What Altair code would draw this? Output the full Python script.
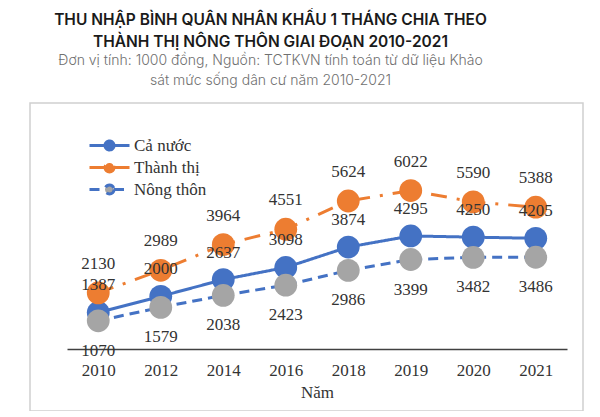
import altair as alt
import pandas as pd

years = ["2010", "2012", "2014", "2016", "2018", "2019", "2020", "2021"]
series_names = ["Cả nước", "Thành thị", "Nông thôn"]
ca_nuoc = [1387, 2000, 2637, 3098, 3874, 4295, 4250, 4205]
thanh_thi = [2130, 2989, 3964, 4551, 5624, 6022, 5590, 5388]
nong_thon = [1070, 1579, 2038, 2423, 2986, 3399, 3482, 3486]

title_lines = ["THU NHẬP BÌNH QUÂN NHÂN KHẨU 1 THÁNG CHIA THEO",
               "THÀNH THỊ NÔNG THÔN GIAI ĐOẠN 2010-2021"]
subtitle_lines = ["Đơn vị tính: 1000 đồng, Nguồn: TCTKVN tính toán từ dữ liệu Khảo",
                  "sát mức sống dân cư năm 2010-2021"]

line_colors = ["#4472C4", "#ED7D31", "#4472C4"]
marker_colors = ["#4472C4", "#ED7D31", "#A5A5A5"]
dash_styles = [[1, 0], [16, 10, 3, 10], [10, 6]]

rows = []
for name, vals in zip(series_names, [ca_nuoc, thanh_thi, nong_thon]):
    for yr, v in zip(years, vals):
        rows.append({"Năm": yr, "series": name, "value": v})
df = pd.DataFrame(rows)

SERIF = "Liberation Serif"
TXT = "#333333"

x_enc = alt.X(
    "Năm:N", sort=years,
    scale=alt.Scale(type="point", range=[37, 537], padding=0.5),
    axis=alt.Axis(orient="bottom", offset=-62, domainColor="#404040", domainWidth=1.5,
                  ticks=False, labelAngle=0, labelFont=SERIF, labelFontSize=17,
                  labelColor=TXT, labelPadding=13, title="Năm", titleFont=SERIF,
                  titleFontSize=17, titleFontWeight="normal", titleColor=TXT,
                  titlePadding=6),
)
y_enc = alt.Y("value:Q", scale=alt.Scale(domain=[-2360, 9350], nice=False, zero=False), axis=None)

leg = alt.Legend(title=None)

base = alt.Chart(df)

lines = base.mark_line(strokeWidth=3).encode(
    x=x_enc, y=y_enc,
    stroke=alt.Stroke("series:N", scale=alt.Scale(domain=series_names, range=line_colors), legend=leg),
    strokeDash=alt.StrokeDash("series:N", scale=alt.Scale(domain=series_names, range=dash_styles), legend=leg),
)

points = base.mark_circle(size=520, opacity=1).encode(
    x=x_enc, y=y_enc,
    fill=alt.Fill("series:N", scale=alt.Scale(domain=series_names, range=marker_colors), legend=leg),
)

def labels(name, dy):
    return base.transform_filter(alt.datum.series == name).mark_text(
        font=SERIF, fontSize=17, color=TXT, dy=dy, baseline="middle"
    ).encode(x=x_enc, y=y_enc, text=alt.Text("value:Q", format="d"))

chart = alt.layer(
    lines, points,
    labels("Thành thị", -29), labels("Cả nước", -27), labels("Nông thôn", 30),
).properties(
    width=553, height=308,
    padding={"left": 22, "top": 4, "right": 9, "bottom": 0},
    background="white",
    title=alt.TitleParams(
        text=title_lines, subtitle=subtitle_lines, anchor="middle", dx=-36,
        font="Inter", fontSize=15.5, fontWeight=600, color="#1a1a1a", lineHeight=22,
        subtitleFont="Inter", subtitleFontSize=14, subtitleFontWeight=300,
        subtitleColor="#707070", subtitleLineHeight=20, subtitlePadding=4, offset=15,
    ),
).configure_view(
    stroke="#D0D0D0", strokeWidth=1.5
).configure_legend(
    orient="none", legendX=68, legendY=31, padding=0,
    labelFont=SERIF, labelFontSize=17, labelColor=TXT, labelOffset=13,
    symbolType="M-2,0H-0.45M0.45,0H2M0.45,0A0.45,0.45,0,1,1,-0.45,0A0.45,0.45,0,1,1,0.45,0Z",
    symbolSize=400, symbolStrokeWidth=3, rowPadding=-6.5,
)

chart.save("out.html", embed_options={"renderer": "svg", "actions": False})
